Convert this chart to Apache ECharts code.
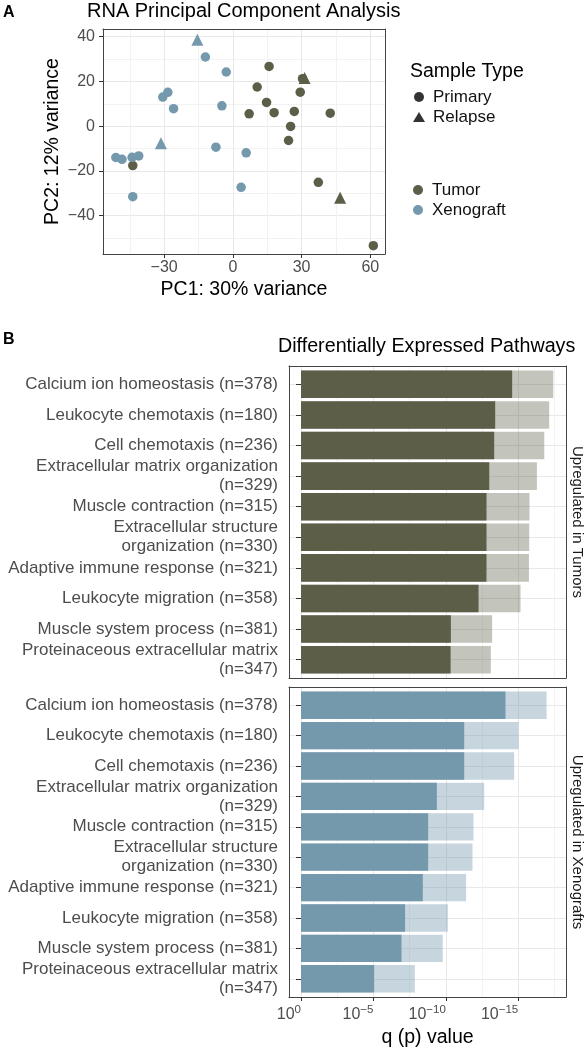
<!DOCTYPE html>
<html><head><meta charset="utf-8">
<script src="https://cdn.jsdelivr.net/npm/echarts@6/dist/echarts.min.js"></script>
<style>html,body{margin:0;padding:0;background:#fff}#c{width:585px;height:1050px}</style>
</head><body><div id="c"></div>
<script>
const FONT = '"Liberation Sans", Arial, Helvetica, sans-serif';

// ---- Panel A: PCA points [PC1, PC2, sample type] ----
const tumorPoints = [
  [-43.7, -17.6, 'Primary'],
  [15.8, 26.7, 'Primary'],
  [10.6, 17.5, 'Primary'],
  [30.4, 21.2, 'Primary'],
  [29.4, 15.2, 'Primary'],
  [14.7, 10.6, 'Primary'],
  [18.0, 6.0, 'Primary'],
  [26.8, 6.6, 'Primary'],
  [7.1, 5.5, 'Primary'],
  [42.5, 5.8, 'Primary'],
  [25.2, -0.1, 'Primary'],
  [24.3, -6.4, 'Primary'],
  [37.3, -25.1, 'Primary'],
  [61.3, -53.4, 'Primary'],
  [31.3, 21.5, 'Relapse'],
  [46.8, -32.0, 'Relapse']
];
const xenograftPoints = [
  [-12.0, 30.9, 'Primary'],
  [-2.9, 24.2, 'Primary'],
  [-30.6, 13.0, 'Primary'],
  [-28.4, 15.1, 'Primary'],
  [-25.9, 7.8, 'Primary'],
  [-4.8, 9.1, 'Primary'],
  [-7.4, -9.4, 'Primary'],
  [5.8, -11.9, 'Primary'],
  [3.6, -27.3, 'Primary'],
  [-51.1, -14.0, 'Primary'],
  [-48.4, -14.8, 'Primary'],
  [-44.0, -13.9, 'Primary'],
  [-41.1, -13.3, 'Primary'],
  [-43.7, -31.5, 'Primary'],
  [-15.5, 38.6, 'Relapse'],
  [-31.4, -7.6, 'Relapse']
];
const pcaXTicks = [-30, 0, 30, 60];
const pcaXMinor = [-45, -15, 15, 45];
const pcaYTicks = [-40, -20, 0, 20, 40];
const pcaYMinor = [-50, -30, -10, 10, 30];

// ---- Panel B: pathways, values are -log10(q) and -log10(p) ----
const pathways = [
  'Calcium ion homeostasis (n=378)',
  'Leukocyte chemotaxis (n=180)',
  'Cell chemotaxis (n=236)',
  'Extracellular matrix organization\n(n=329)',
  'Muscle contraction (n=315)',
  'Extracellular structure\norganization (n=330)',
  'Adaptive immune response (n=321)',
  'Leukocyte migration (n=358)',
  'Muscle system process (n=381)',
  'Proteinaceous extracellular matrix\n(n=347)'
];
const tumorQ = [14.58, 13.41, 13.34, 13.00, 12.81, 12.81, 12.81, 12.26, 10.35, 10.33];
const tumorP = [17.42, 17.14, 16.80, 16.29, 15.78, 15.76, 15.74, 15.16, 13.20, 13.11];
const xenoQ  = [14.12, 11.27, 11.27, 9.38, 8.78, 8.78, 8.41, 7.19, 6.94, 5.05];
const xenoP  = [16.96, 15.02, 14.72, 12.65, 11.91, 11.84, 11.40, 10.14, 9.79, 7.86];
const qTicks = [0, 5, 10, 15];
const qMinor = [2.5, 7.5, 12.5, 17.5];
const rowIdx = [0, 1, 2, 3, 4, 5, 6, 7, 8, 9];

const TUMOR = '#5d5e48';
const XENO = '#7498ac';
const GRID_MAJ = '#e8e8e8';
const GRID_MIN = '#f2f2f2';
const AXIS_TXT = '#4d4d4d';
const BORDER = '#444';
const minus = v => String(v).replace('-', '\u2212');

const QMIN = -0.83, QMAX = 18.3;

function majorAxis(extra) {
  return Object.assign({
    type: 'value',
    axisLine: { show: false },
    axisTick: { show: true, length: 4, lineStyle: { color: '#333' } },
    splitLine: { show: true, lineStyle: { color: GRID_MAJ, width: 1 } },
    axisLabel: { color: AXIS_TXT, fontFamily: FONT, fontSize: 16 }
  }, extra);
}
function minorAxis(extra) {
  return Object.assign({
    type: 'value',
    axisLine: { show: false },
    axisTick: { show: false },
    axisLabel: { show: false },
    splitLine: { show: true, lineStyle: { color: GRID_MIN, width: 1 } }
  }, extra);
}
const frameLine = { show: true, onZero: false, lineStyle: { color: BORDER, width: 1 } };

const chart = echarts.init(document.getElementById('c'), null, { renderer: 'canvas' });

const option = {
  animation: false,
  backgroundColor: '#fff',
  textStyle: { fontFamily: FONT },
  title: [
    { text: 'A', left: 3, top: 5, padding: 0, textStyle: { fontFamily: FONT, fontSize: 16, fontWeight: 'bold', color: '#000' } },
    { text: 'RNA Principal Component Analysis', left: 87, top: 1, padding: 0, textStyle: { fontFamily: FONT, fontSize: 20, fontWeight: 'normal', color: '#000' } },
    { text: 'Sample Type', left: 410, top: 62, padding: 0, textStyle: { fontFamily: FONT, fontSize: 19.5, fontWeight: 'normal', color: '#000' } },
    { text: 'B', left: 3, top: 332, padding: 0, textStyle: { fontFamily: FONT, fontSize: 16, fontWeight: 'bold', color: '#000' } },
    { text: 'Differentially Expressed Pathways', left: 278, top: 337, padding: 0, textStyle: { fontFamily: FONT, fontSize: 19.7, fontWeight: 'normal', color: '#000' } }
  ],
  legend: [
    {
      data: [{ name: 'Primary', icon: 'circle' }, { name: 'Relapse', icon: 'triangle' }],
      orient: 'vertical', left: 413, top: 87, padding: 0, itemGap: 0,
      itemWidth: 12, itemHeight: 10, selectedMode: false,
      textStyle: { fontFamily: FONT, fontSize: 17, lineHeight: 20, color: '#111', padding: [0, 0, 0, 3] }
    },
    {
      data: [{ name: 'Tumor', icon: 'circle' }, { name: 'Xenograft', icon: 'circle' }],
      orient: 'vertical', left: 413, top: 180, padding: 0, itemGap: 0,
      itemWidth: 12, itemHeight: 10, selectedMode: false,
      textStyle: { fontFamily: FONT, fontSize: 17, lineHeight: 20, color: '#111', padding: [0, 0, 0, 3] }
    }
  ],
  grid: [
    { left: 103, top: 29, width: 282, height: 225 },
    { left: 289, top: 366, width: 277, height: 312 },
    { left: 289, top: 366 + 312 * 0.1 / 10.2, width: 277, height: 312 * 10 / 10.2 },
    { left: 289, top: 687, width: 277, height: 310 },
    { left: 289, top: 687 + 310 * 0.1 / 10.2, width: 277, height: 310 * 10 / 10.2 }
  ],
  xAxis: [
    // 0: PCA major
    majorAxis({ gridIndex: 0, min: -56.7, max: 66.4, position: 'bottom', axisLine: frameLine,
      axisTick: { show: true, length: 4, customValues: pcaXTicks, lineStyle: { color: '#333' } },
      axisLabel: { customValues: pcaXTicks, formatter: minus, color: AXIS_TXT, fontFamily: FONT, fontSize: 16, margin: 6 },
      name: 'PC1: 30% variance', nameLocation: 'middle', nameGap: 26,
      nameTextStyle: { fontFamily: FONT, fontSize: 19.5, color: '#000' } }),
    // 1: PCA minor
    minorAxis({ gridIndex: 0, min: -56.7, max: 66.4, position: 'top', axisLine: frameLine,
      axisTick: { show: false, customValues: pcaXMinor } }),
    // 2: panel 1 frame major
    majorAxis({ gridIndex: 1, min: QMIN, max: QMAX, position: 'bottom', axisLine: frameLine,
      axisTick: { show: false, customValues: qTicks }, axisLabel: { show: false } }),
    // 3: panel 1 frame minor
    minorAxis({ gridIndex: 1, min: QMIN, max: QMAX, position: 'top', axisLine: frameLine,
      axisTick: { show: false, customValues: qMinor } }),
    // 4: panel 1 bars
    { type: 'value', gridIndex: 2, min: QMIN, max: QMAX, show: false },
    // 5: panel 2 frame major
    majorAxis({ gridIndex: 3, min: QMIN, max: QMAX, position: 'bottom', axisLine: frameLine,
      axisTick: { show: true, length: 4, customValues: qTicks, lineStyle: { color: '#333' } },
      axisLabel: {
        customValues: qTicks, align: 'right', margin: 7,
        formatter: v => '{b|10}{s|' + (v === 0 ? '0' : '\u2212' + v) + '}',
        rich: {
          b: { fontFamily: FONT, fontSize: 16, color: AXIS_TXT, lineHeight: 22 },
          s: { fontFamily: FONT, fontSize: 11.5, color: AXIS_TXT, lineHeight: 10, verticalAlign: 'top' }
        }
      },
      name: 'q (p) value', nameLocation: 'middle', nameGap: 31,
      nameTextStyle: { fontFamily: FONT, fontSize: 19.5, color: '#000' } }),
    // 6: panel 2 frame minor
    minorAxis({ gridIndex: 3, min: QMIN, max: QMAX, position: 'top', axisLine: frameLine,
      axisTick: { show: false, customValues: qMinor } }),
    // 7: panel 2 bars
    { type: 'value', gridIndex: 4, min: QMIN, max: QMAX, show: false }
  ],
  yAxis: [
    // 0: PCA major
    majorAxis({ gridIndex: 0, min: -57.1, max: 43.4, position: 'left', axisLine: frameLine,
      axisTick: { show: true, length: 4, customValues: pcaYTicks, lineStyle: { color: '#333' } },
      axisLabel: { customValues: pcaYTicks, formatter: minus, color: AXIS_TXT, fontFamily: FONT, fontSize: 16, margin: 8 },
      name: 'PC2: 12% variance', nameLocation: 'middle', nameGap: 40,
      nameTextStyle: { fontFamily: FONT, fontSize: 19.5, color: '#000' } }),
    // 1: PCA minor
    minorAxis({ gridIndex: 0, min: -57.1, max: 43.4, position: 'right', axisLine: frameLine,
      axisTick: { show: false, customValues: pcaYMinor } }),
    // 2: panel 1 frame: horizontal lines at row centres
    { type: 'value', gridIndex: 1, min: -0.6, max: 9.6, inverse: true, position: 'left',
      axisLine: frameLine, axisLabel: { show: false },
      axisTick: { show: false, customValues: rowIdx },
      splitLine: { show: true, lineStyle: { color: GRID_MAJ, width: 1 } } },
    // 3: panel 1 right border
    { type: 'value', gridIndex: 1, min: -0.6, max: 9.6, inverse: true, position: 'right',
      axisLine: frameLine, axisLabel: { show: false }, axisTick: { show: false }, splitLine: { show: false } },
    // 4: panel 1 bars
    { type: 'category', gridIndex: 2, data: pathways, inverse: true,
      axisLine: { show: false },
      axisTick: { show: true, alignWithLabel: true, length: 5, interval: 0, lineStyle: { color: '#333' } },
      splitLine: { show: false },
      axisLabel: { interval: 0, color: AXIS_TXT, fontFamily: FONT, fontSize: 17, lineHeight: 19, margin: 11, align: 'right' } },
    // 5: panel 2 frame
    { type: 'value', gridIndex: 3, min: -0.6, max: 9.6, inverse: true, position: 'left',
      axisLine: frameLine, axisLabel: { show: false },
      axisTick: { show: false, customValues: rowIdx },
      splitLine: { show: true, lineStyle: { color: GRID_MAJ, width: 1 } } },
    // 6: panel 2 right border
    { type: 'value', gridIndex: 3, min: -0.6, max: 9.6, inverse: true, position: 'right',
      axisLine: frameLine, axisLabel: { show: false }, axisTick: { show: false }, splitLine: { show: false } },
    // 7: panel 2 bars
    { type: 'category', gridIndex: 4, data: pathways, inverse: true,
      axisLine: { show: false },
      axisTick: { show: true, alignWithLabel: true, length: 5, interval: 0, lineStyle: { color: '#333' } },
      splitLine: { show: false },
      axisLabel: { interval: 0, color: AXIS_TXT, fontFamily: FONT, fontSize: 17, lineHeight: 19, margin: 11, align: 'right' } }
  ],
  graphic: [
    { type: 'text', x: 577, y: 522, rotation: -Math.PI / 2,
      style: { text: 'Upregulated in Tumors', fontFamily: FONT, fontSize: 15, fill: '#1a1a1a', align: 'center', verticalAlign: 'middle' } },
    { type: 'text', x: 577, y: 842, rotation: -Math.PI / 2,
      style: { text: 'Upregulated in Xenografts', fontFamily: FONT, fontSize: 15, fill: '#1a1a1a', align: 'center', verticalAlign: 'middle' } }
  ],
  series: [
    { name: 'Primary', type: 'scatter', xAxisIndex: 0, yAxisIndex: 0, data: [], symbol: 'circle', itemStyle: { color: '#000' } },
    { name: 'Relapse', type: 'scatter', xAxisIndex: 0, yAxisIndex: 0, data: [], symbol: 'triangle', itemStyle: { color: '#000' } },
    { name: 'Tumor', type: 'scatter', xAxisIndex: 0, yAxisIndex: 0, data: tumorPoints,
      symbol: v => v[2] === 'Relapse' ? 'triangle' : 'circle',
      symbolSize: v => v[2] === 'Relapse' ? 12 : 9.5,
      itemStyle: { color: TUMOR, opacity: 1 } },
    { name: 'Xenograft', type: 'scatter', xAxisIndex: 0, yAxisIndex: 0, data: xenograftPoints,
      symbol: v => v[2] === 'Relapse' ? 'triangle' : 'circle',
      symbolSize: v => v[2] === 'Relapse' ? 12 : 9.5,
      itemStyle: { color: XENO, opacity: 1 } },
    { name: 'Tumor p', type: 'bar', xAxisIndex: 4, yAxisIndex: 4, data: tumorP, barWidth: '90%', barGap: '-100%',
      itemStyle: { color: 'rgba(93,94,72,0.37)' } },
    { name: 'Tumor q', type: 'bar', xAxisIndex: 4, yAxisIndex: 4, data: tumorQ, barWidth: '90%', barGap: '-100%',
      itemStyle: { color: TUMOR } },
    { name: 'Xenograft p', type: 'bar', xAxisIndex: 7, yAxisIndex: 7, data: xenoP, barWidth: '90%', barGap: '-100%',
      itemStyle: { color: 'rgba(116,152,172,0.4)' } },
    { name: 'Xenograft q', type: 'bar', xAxisIndex: 7, yAxisIndex: 7, data: xenoQ, barWidth: '90%', barGap: '-100%',
      itemStyle: { color: XENO } }
  ]
};
chart.setOption(option);
</script>
</body></html>
